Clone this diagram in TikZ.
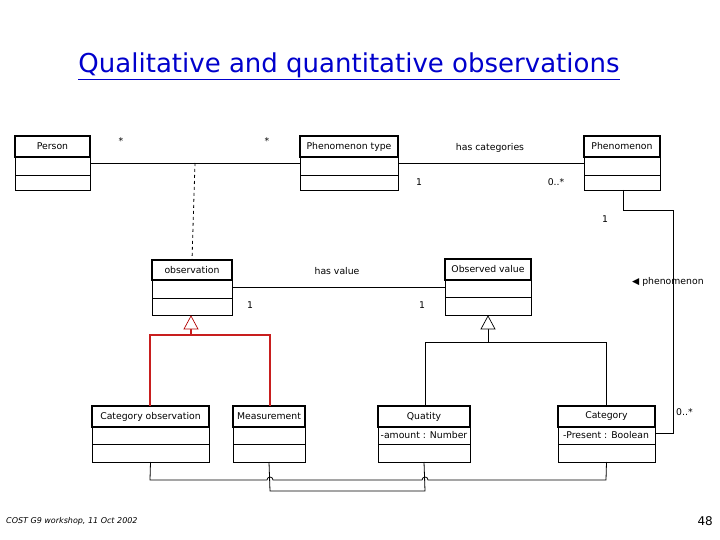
\documentclass[tikz,border=0pt]{standalone}
\usepackage{fontspec}
\setmainfont{DejaVu Sans}
\begin{document}
\begin{tikzpicture}[x=1pt,y=-1pt,
  lbl/.style={font=\fontsize{9.3}{11}\selectfont,inner sep=0pt},
  conn/.style={line width=0.8pt},
  redconn/.style={line width=2pt,draw={rgb,255:red,200;green,30;blue,30}}]
\useasboundingbox (0,0) rectangle (720,540);
\newcommand\umlbox[8]{% name,x1,y1,x2,div1,div2,y2,text
  \draw[line width=1.5pt] (#2,#3) rectangle (#4,#5);
  \draw[line width=0.8pt] (#2,#5) rectangle (#4,#7);
  \draw[line width=0.8pt] (#2,#6) -- (#4,#6);
  \node[lbl] (#1) at ({(#2+#4)/2},{(#3+#5)/2}) {#8};
  \coordinate (#1-b) at ({(#2+#4)/2},#7);
}
\node[font=\fontsize{26}{30}\selectfont,text=blue!80!black] (title) at (349,66) {\underline{Qualitative and quantitative observations}};
\umlbox{person}{15}{136}{90}{157}{175}{190}{Person}
\umlbox{ptype}{300}{136}{398}{157}{175}{190}{Phenomenon type}
\umlbox{phen}{584}{136}{660}{157}{175}{190}{Phenomenon}
\umlbox{obs}{152}{260}{232}{280}{298}{315}{observation}
\umlbox{oval}{445}{259}{531}{280}{297}{315}{Observed value}
\umlbox{cobs}{92}{406}{209}{427}{444}{462}{Category observation}
\umlbox{meas}{233}{406}{305}{427}{444}{462}{Measurement}
\umlbox{quat}{378}{406}{470}{427}{444}{462}{Quatity}
\umlbox{cat}{558}{406}{655}{427}{444}{462}{Category}
\node[lbl] (qa) at (424,435) {-amount : Number};
\node[lbl] (ca) at (606,435) {-Present : Boolean};
% associations
\draw[conn] (90,163) -- (300,163);
\draw[conn] (398,163) -- (584,163);
\draw[conn,dashed] (195,163) -- (192,260);
\draw[conn] (623,190) -- (623,210) -- (673,210) -- (673,433) -- (655,433);
\draw[conn] (232,287) -- (445,287);
% generalizations
\draw[redconn] (150,406) -- (150,335) -- (270,335) -- (270,406);
\draw[redconn] (191,335) -- (191,329);
\draw[line width=0.7pt,draw=red!70!black,fill=white] (191,316) -- (184,329) -- (198,329) -- cycle;
\draw[conn] (425,406) -- (425,342) -- (606,342) -- (606,406);
\draw[conn] (488,342) -- (488,329);
\draw[line width=0.7pt,fill=white] (488,316) -- (481,329) -- (495,329) -- cycle;
% bottom links with hops
\draw[conn] (cobs-b) -- (150,480) -- (267,480) arc (180:360:3) -- (422,480) arc (180:360:3) -- (606,480) -- (cat-b);
\draw[conn] (meas-b) -- (270,491) -- (425,491) -- (quat-b);
% labels
\node[lbl] (s1) at (121,141) {*};
\node[lbl] (s2) at (267,141) {*};
\node[lbl] (hc) at (490,148) {has categories};
\node[lbl] (o1) at (419,182) {1};
\node[lbl] (o2) at (556,182) {0..*};
\node[lbl] (o3) at (605,219) {1};
\node[lbl,anchor=west] (ph) at (632,282) {◀ phenomenon};
\node[lbl] (hv) at (337,271) {has value};
\node[lbl] (o4) at (250,305) {1};
\node[lbl] (o5) at (422,305) {1};
\node[lbl,anchor=west] (o6) at (676,412) {0..*};
\node[font=\fontsize{8}{9}\selectfont\itshape,anchor=west,inner sep=0pt] (foot) at (6,521) {COST G9 workshop, 11 Oct 2002};
\node[font=\fontsize{12}{13}\selectfont,anchor=east,inner sep=0pt] (pg) at (713,521) {48};
\end{tikzpicture}
\end{document}
